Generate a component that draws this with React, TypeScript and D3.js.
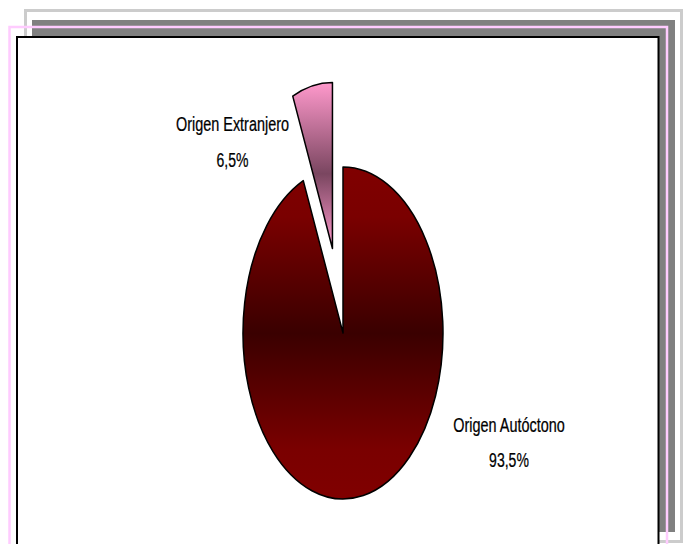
import React from "react";
import * as d3 from "d3";

const categories = ["Origen Autóctono", "Origen Extranjero"];
const values = [93.5, 6.5];
const valueLabels = ["93,5%", "6,5%"];
const exploded = [false, true];

const W = 689;
const H = 544;

export default function App() {
  const cx = 343;
  const cy = 333;
  const R = 100;
  const sy = 1.66;
  const pie = d3.pie<number>().sort(null).value((d) => d);
  const arcs = pie(values);
  const arcGen = d3.arc<d3.PieArcDatum<number>>().innerRadius(0).outerRadius(R);
  const explodeDist = 52;

  const gradIds = ["gMain", "gPink"];
  const labelPos = [
    { x: 509, y1: 432, y2: 467 },
    { x: 232.5, y1: 131, y2: 167 },
  ];

  return (
    <svg
      width={W}
      height={H}
      style={{ position: "absolute", left: 0, top: 0 }}
      xmlns="http://www.w3.org/2000/svg"
    >
      <defs>
        <linearGradient id="gMain" x1="0" y1="0" x2="0" y2="1">
          <stop offset="0" stopColor="#800000" />
          <stop offset="0.15" stopColor="#7a0000" />
          <stop offset="0.5" stopColor="#3a0000" />
          <stop offset="0.85" stopColor="#7a0000" />
          <stop offset="1" stopColor="#800000" />
        </linearGradient>
        <linearGradient id="gPink" x1="0" y1="0" x2="0" y2="1">
          <stop offset="0" stopColor="#ff99cc" />
          <stop offset="0.55" stopColor="#7a4660" />
          <stop offset="1" stopColor="#ff99cc" />
        </linearGradient>
      </defs>
      <rect x={0} y={0} width={W} height={H} fill="#ffffff" />
      <rect x={25.5} y={10.5} width={656} height={531} fill="none" stroke="#cccccc" strokeWidth={3} />
      <rect x={32} y={20} width={643} height={512} fill="#808080" />
      <rect x={9.5} y={27} width={657.5} height={560} fill="none" stroke="#ffccff" strokeWidth={2.5} />
      <rect x={17} y={37} width={641.5} height={560} fill="#ffffff" stroke="#000000" strokeWidth={2} />

      {arcs.map((a, i) => {
        const mid = (a.startAngle + a.endAngle) / 2;
        const off = exploded[i] ? explodeDist : 0;
        const dx = Math.sin(mid) * off;
        const dy = -Math.cos(mid) * off;
        return (
          <g key={i} transform={`translate(${cx},${cy}) scale(1,${sy}) translate(${dx},${dy})`}>
            <path
              d={arcGen(a) || ""}
              fill={`url(#${gradIds[i]})`}
              stroke="#000000"
              strokeWidth={1.5}
              vectorEffect="non-scaling-stroke"
              strokeLinejoin="round"
            />
          </g>
        );
      })}

      {categories.map((c, i) => (
        <g key={c} fontFamily="'Liberation Sans', Arial, sans-serif" fontSize={19.5} fill="#000" textAnchor="middle" stroke="#000" strokeWidth={0.25}>
          <g transform={`translate(${labelPos[i].x},${labelPos[i].y1}) scale(0.74,1)`}>
            <text x={0} y={0}>{c}</text>
          </g>
          <g transform={`translate(${labelPos[i].x},${labelPos[i].y2}) scale(0.72,1)`}>
            <text x={0} y={0}>{valueLabels[i]}</text>
          </g>
        </g>
      ))}
    </svg>
  );
}
